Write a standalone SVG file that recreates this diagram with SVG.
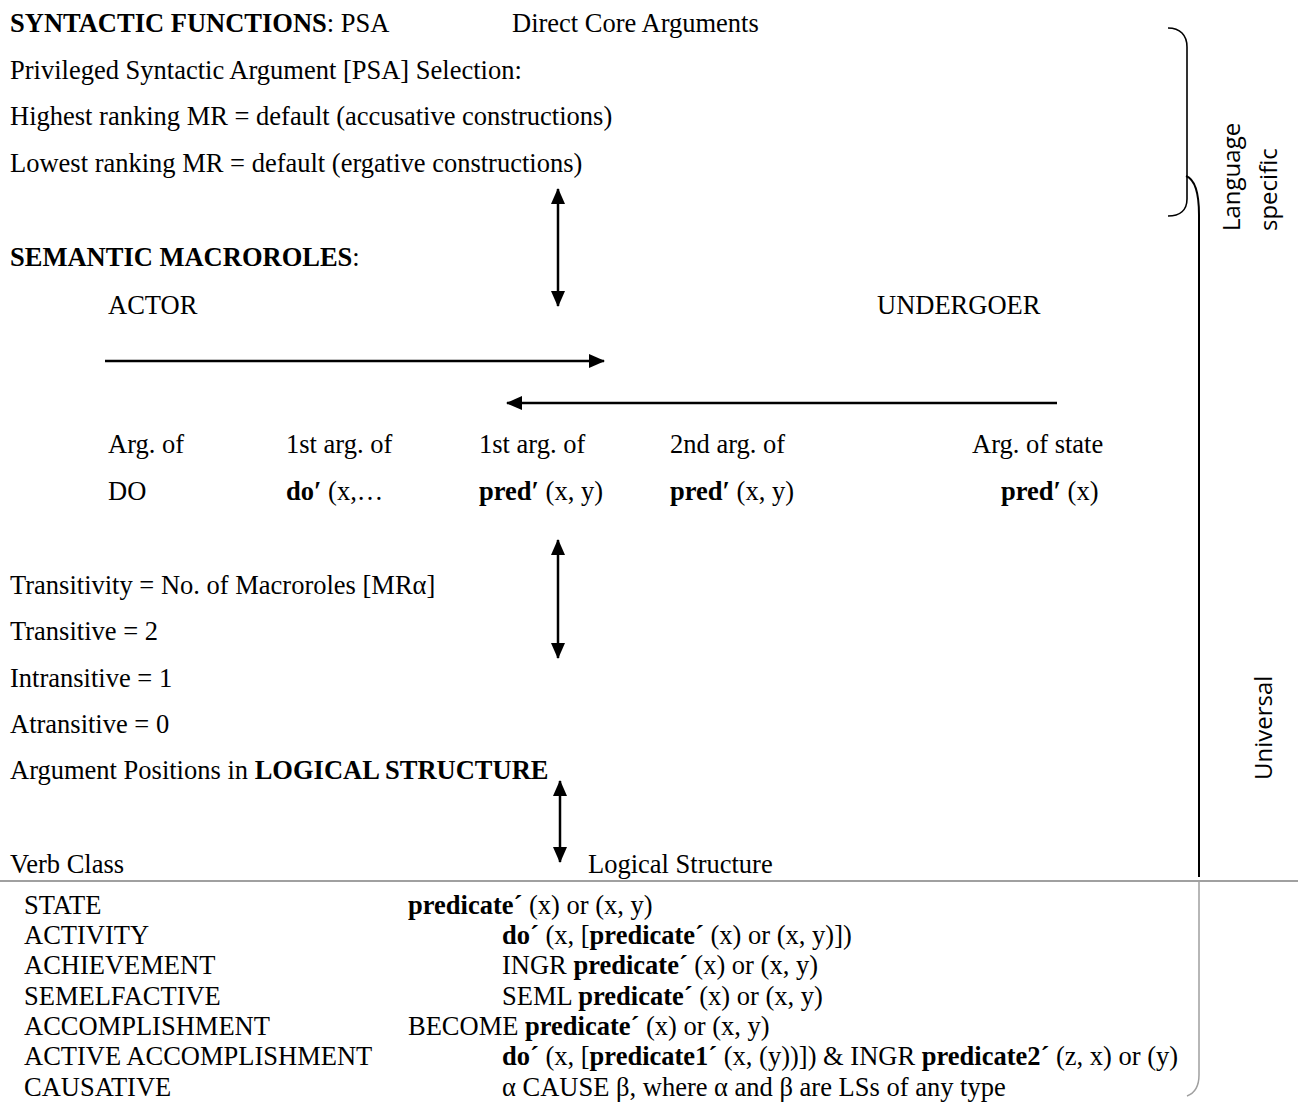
<svg xmlns="http://www.w3.org/2000/svg" width="1298" height="1102" viewBox="0 0 1298 1102">
<style>
text{font-family:"Liberation Serif","Times New Roman",serif;font-size:26.5px;fill:#000}
.b{font-weight:bold}
.sans{font-family:"Open Sans","Liberation Sans",sans-serif;font-size:24px}
.conn{stroke:#000;stroke-width:2.5;fill:none}
.brace{stroke:#000;stroke-width:1.6;fill:none}
.gray{stroke:#a0a0a0;stroke-width:1.8;fill:none}
</style>
<defs>
<marker id="ah" viewBox="0 0 16 14" refX="15" refY="7" markerWidth="16" markerHeight="14" markerUnits="userSpaceOnUse" orient="auto-start-reverse">
<path d="M0,0 L16,7 L0,14 Z" fill="#000"/>
</marker>
</defs>
<rect width="1298" height="1102" fill="#fff"/>

<g id="syntactic">
<text x="10" y="32"><tspan class="b">SYNTACTIC FUNCTIONS</tspan>: PSA</text>
<text x="512" y="32">Direct Core Arguments</text>
<text x="10" y="79">Privileged Syntactic Argument [PSA] Selection:</text>
<text x="10" y="125">Highest ranking MR = default (accusative constructions)</text>
<text x="10" y="172">Lowest ranking MR = default (ergative constructions)</text>
</g>

<g id="macroroles">
<text x="10" y="266"><tspan class="b">SEMANTIC MACROROLES</tspan>:</text>
<text x="108" y="314">ACTOR</text>
<text x="877" y="314">UNDERGOER</text>
</g>

<g id="args">
<text x="108" y="453">Arg. of</text>
<text x="108" y="500">DO</text>
<text x="286" y="453">1st arg. of</text>
<text x="286" y="500"><tspan class="b">do′</tspan> (x,…</text>
<text x="479" y="453">1st arg. of</text>
<text x="479" y="500"><tspan class="b">pred′</tspan> (x, y)</text>
<text x="670" y="453">2nd arg. of</text>
<text x="670" y="500"><tspan class="b">pred′</tspan> (x, y)</text>
<text x="972" y="453">Arg. of state</text>
<text x="1001" y="500"><tspan class="b">pred′</tspan> (x)</text>
</g>

<g id="transitivity">
<text x="10" y="594">Transitivity = No. of Macroroles [MRα]</text>
<text x="10" y="640">Transitive = 2</text>
<text x="10" y="687">Intransitive = 1</text>
<text x="10" y="733">Atransitive = 0</text>
<text x="10" y="779">Argument Positions in <tspan class="b">LOGICAL STRUCTURE</tspan></text>
</g>

<g id="table">
<text x="10" y="873">Verb Class</text>
<text x="588" y="873">Logical Structure</text>
<text x="24" y="914">STATE</text>
<text x="24" y="944">ACTIVITY</text>
<text x="24" y="974">ACHIEVEMENT</text>
<text x="24" y="1005">SEMELFACTIVE</text>
<text x="24" y="1035">ACCOMPLISHMENT</text>
<text x="24" y="1065">ACTIVE ACCOMPLISHMENT</text>
<text x="24" y="1096">CAUSATIVE</text>
<text x="408" y="914"><tspan class="b">predicate´</tspan> (x) or (x, y)</text>
<text x="502" y="944"><tspan class="b">do´</tspan> (x, [<tspan class="b">predicate´</tspan> (x) or (x, y)])</text>
<text x="502" y="974">INGR <tspan class="b">predicate´</tspan> (x) or (x, y)</text>
<text x="502" y="1005">SEML <tspan class="b">predicate´</tspan> (x) or (x, y)</text>
<text x="408" y="1035">BECOME <tspan class="b">predicate´</tspan> (x) or (x, y)</text>
<text x="502" y="1065"><tspan class="b">do´</tspan> (x, [<tspan class="b">predicate1´</tspan> (x, (y))]) &amp; INGR <tspan class="b">predicate2´</tspan> (z, x) or (y)</text>
<text x="502" y="1096">α CAUSE β, where α and β are LSs of any type</text>
</g>

<g id="scope-labels">
<text class="sans" transform="translate(1240,231) rotate(-90)">Language</text>
<text class="sans" transform="translate(1277,231) rotate(-90)">specific</text>
<text class="sans" transform="translate(1272,780) rotate(-90)">Universal</text>
</g>

<g id="connectors">
<line class="conn" x1="558" y1="189" x2="558" y2="306" marker-start="url(#ah)" marker-end="url(#ah)"/>
<line class="conn" x1="105" y1="361" x2="604" y2="361" marker-end="url(#ah)"/>
<line class="conn" x1="1057" y1="403" x2="507" y2="403" marker-end="url(#ah)"/>
<line class="conn" x1="558" y1="540" x2="558" y2="658" marker-start="url(#ah)" marker-end="url(#ah)"/>
<line class="conn" x1="560" y1="781" x2="560" y2="862" marker-start="url(#ah)" marker-end="url(#ah)"/>
<path class="brace" d="M1168,28 C1180,28 1187,35 1187,47 L1187,199 C1187,210 1180,216 1168,216"/>
<path class="brace" d="M1186,176 C1194,179 1199,190 1199,215 L1199,877" style="stroke-width:2"/>
<line class="gray" x1="0" y1="881" x2="1298" y2="881"/>
<path class="gray" d="M1199,882 L1199,1075 C1199,1087 1195,1093 1187,1096" style="stroke-width:1.5"/>
</g>
</svg>
